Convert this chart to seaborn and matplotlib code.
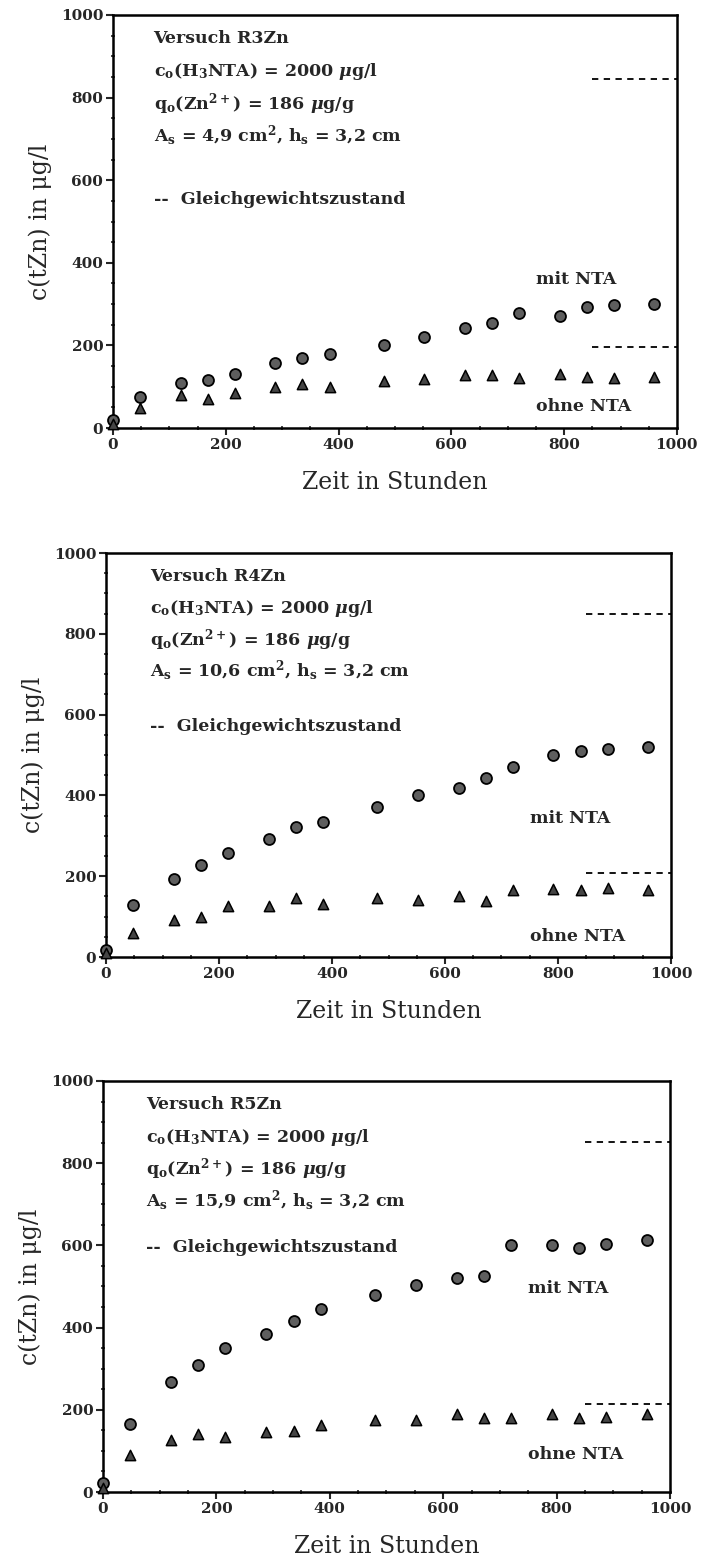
import numpy as np
import pandas as pd
import matplotlib
matplotlib.use("Agg")
import matplotlib.pyplot as plt
from matplotlib.ticker import MultipleLocator
import seaborn as sns

# Sampling times (hours)
zeit = [0, 48, 120, 168, 216, 288, 336, 384, 480, 552, 624, 672, 720, 792, 840, 888, 960]

# Versuch R3Zn
r3_mit = [20, 75, 110, 117, 132, 158, 170, 180, 200, 220, 243, 255, 278, 272, 293, 297, 300]
r3_ohne = [10, 48, 80, 70, 85, 100, 106, 100, 115, 118, 129, 128, 120, 130, 124, 120, 123]
r3_gg = [845, 196]

# Versuch R4Zn
r4_mit = [18, 128, 193, 228, 258, 293, 323, 335, 372, 400, 418, 443, 470, 500, 510, 515, 520]
r4_ohne = [10, 60, 92, 100, 127, 127, 147, 132, 147, 140, 150, 138, 165, 168, 165, 170, 165]
r4_gg = [850, 208]

# Versuch R5Zn
r5_mit = [22, 165, 268, 310, 350, 385, 415, 445, 480, 503, 520, 525, 600, 600, 593, 603, 612]
r5_ohne = [10, 90, 127, 140, 135, 147, 148, 162, 175, 175, 190, 180, 180, 190, 180, 182, 190]
r5_gg = [852, 215]

titles = ["Versuch R3Zn", "Versuch R4Zn", "Versuch R5Zn"]
flaechen = ["4,9", "10,6", "15,9"]

sns.set_theme(style="ticks")
plt.rcParams["font.family"] = ["DejaVu Serif"]
plt.rcParams["mathtext.fontset"] = "custom"
plt.rcParams["mathtext.rm"] = "DejaVu Serif:bold"
plt.rcParams["mathtext.it"] = "DejaVu Serif:italic:bold"
plt.rcParams["mathtext.bf"] = "DejaVu Serif:bold"

fig = plt.figure(figsize=(7.04, 15.61), dpi=100)

boxes = [
    [0.1605, 0.7258, 0.8010, 0.2646],
    [0.1506, 0.3869, 0.8025, 0.2588],
    [0.1463, 0.0442, 0.8054, 0.2633],
]

panels = [
    (r3_mit, r3_ohne, r3_gg),
    (r4_mit, r4_ohne, r4_gg),
    (r5_mit, r5_ohne, r5_gg),
]

# positions of the free text in each panel (data units)
text_x = [72, 78, 76]
gg_text_y = [553, 571, 595]
mit_y = [360, 344, 495]
ohne_y = [52, 52, 92]

for i, (box, (mit, ohne, gg)) in enumerate(zip(boxes, panels)):
    ax = fig.add_axes(box)
    df = pd.DataFrame({"Zeit": zeit * 2,
                       "c": mit + ohne,
                       "Serie": ["mit NTA"] * len(zeit) + ["ohne NTA"] * len(zeit)})
    sns.scatterplot(data=df[df.Serie == "mit NTA"], x="Zeit", y="c", ax=ax,
                    marker="o", s=62, color="#5e5e5e", edgecolor="black",
                    linewidth=1.3, legend=False, zorder=3, clip_on=False)
    sns.scatterplot(data=df[df.Serie == "ohne NTA"], x="Zeit", y="c", ax=ax,
                    marker="^", s=55, color="#454545", edgecolor="black",
                    linewidth=1.1, legend=False, zorder=3, clip_on=False)

    # equilibrium concentrations
    for g in gg:
        ax.hlines(g, 850, 1000, colors="black", linestyles=(0, (3.5, 3)), lw=1.3)

    ax.set_xlim(0, 1000)
    ax.set_ylim(0, 1000)
    ax.xaxis.set_major_locator(MultipleLocator(200))
    ax.yaxis.set_major_locator(MultipleLocator(200))
    ax.xaxis.set_minor_locator(MultipleLocator(50))
    ax.yaxis.set_minor_locator(MultipleLocator(50))
    ax.tick_params(which="major", direction="out", length=5, width=1.5,
                   labelsize=11, pad=2)
    ax.tick_params(which="minor", direction="inout", length=3, width=1.2)
    for lab in ax.get_xticklabels() + ax.get_yticklabels():
        lab.set_fontweight("bold")
    for sp in ax.spines.values():
        sp.set_linewidth(1.8)
        sp.set_color("black")

    ax.set_xlabel("Zeit in Stunden", fontsize=17, labelpad=14)
    ax.set_ylabel("c(tZn) in μg/l", fontsize=17, labelpad=6)

    tx = text_x[i]
    fs = 12.5
    kw = dict(fontsize=fs, fontweight="bold", va="center")
    ax.text(tx, 942, titles[i], **kw)
    ax.text(tx, 862, r"c$_\mathrm{o}$(H$_3$NTA) = 2000 $\mu$g/l", **kw)
    ax.text(tx, 785, r"q$_\mathrm{o}$(Zn$^{2+}$) = 186 $\mu$g/g", **kw)
    ax.text(tx, 708, r"A$_\mathrm{s}$ = " + flaechen[i] +
            r" cm$^2$, h$_\mathrm{s}$ = 3,2 cm", **kw)
    ax.text(tx, gg_text_y[i], "--  Gleichgewichtszustand", **kw)
    ax.text(750, mit_y[i], "mit NTA", **kw)
    ax.text(750, ohne_y[i], "ohne NTA", **kw)

fig.savefig("out.png", dpi=100)
